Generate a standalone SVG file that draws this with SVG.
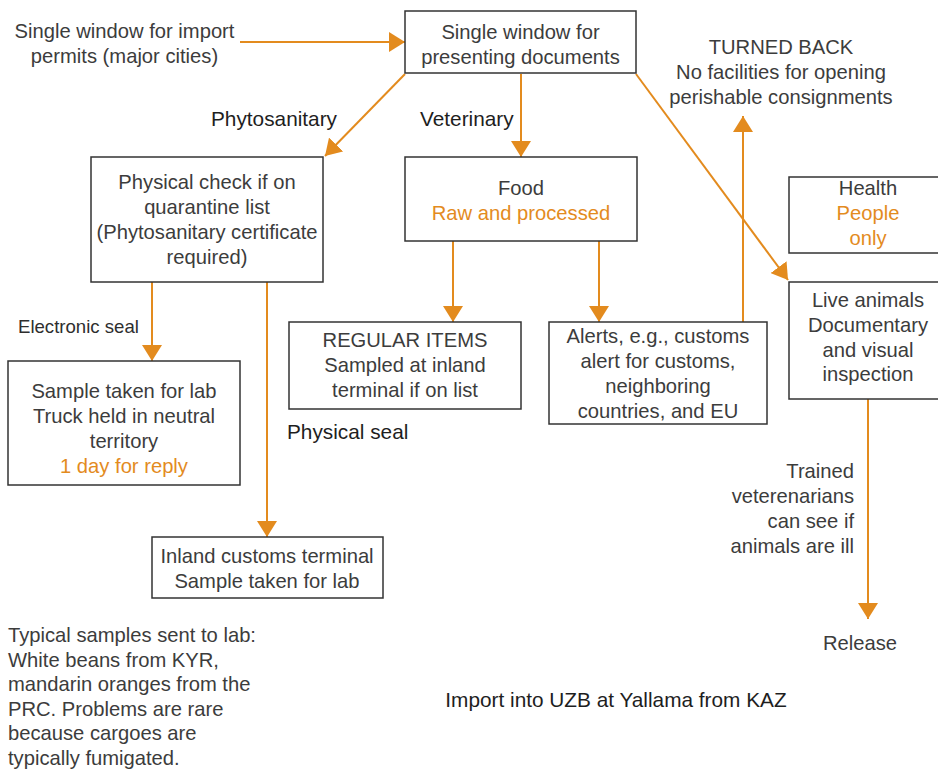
<svg xmlns="http://www.w3.org/2000/svg" width="938" height="770" viewBox="0 0 938 770">
<style>
text{font-family:"Liberation Sans",Arial,sans-serif;font-size:20.2px;fill:#3c3c3c}
.c{text-anchor:middle}
.r{text-anchor:end}
.o{fill:#E38B1E}
.d{fill:#1e1e1e;font-size:20.8px}
.s{font-size:18.6px;fill:#2e2e2e}
.box{fill:#fff;stroke:#333;stroke-width:1.5}
.con{stroke:#E38B1E;stroke-width:2;fill:none;marker-end:url(#ah)}
</style>
<defs>
<marker id="ah" markerUnits="userSpaceOnUse" markerWidth="17" markerHeight="20" refX="16" refY="10" orient="auto" viewBox="0 0 17 20">
<path d="M0,0 L16,10 L0,20 z" fill="#E38B1E"/>
</marker>
</defs>
<rect width="938" height="770" fill="#fff"/>
<g id="connectors">
<line class="con" x1="240" y1="42" x2="405" y2="42"/>
<line class="con" x1="405" y1="74" x2="325" y2="156"/>
<line class="con" x1="521" y1="74" x2="521" y2="157"/>
<line class="con" x1="636" y1="74" x2="788" y2="280"/>
<line class="con" x1="453" y1="241" x2="453" y2="322"/>
<line class="con" x1="599" y1="241" x2="599" y2="322"/>
<line class="con" x1="743" y1="322" x2="743" y2="116"/>
<line class="con" x1="152" y1="282" x2="152" y2="361"/>
<line class="con" x1="267" y1="282" x2="267" y2="537"/>
<line class="con" x1="868" y1="399" x2="868" y2="619"/>
</g>
<g id="import-permits">
<text class="c" x="124.5" y="38">Single window for import</text>
<text class="c" x="124.5" y="63">permits (major cities)</text>
</g>
<g id="single-window">
<rect class="box" x="405" y="11" width="231" height="62"/>
<text class="c" x="520.5" y="39">Single window for</text>
<text class="c" x="520.5" y="64">presenting documents</text>
</g>
<g id="turned-back">
<text class="c" x="781" y="53.5">TURNED BACK</text>
<text class="c" x="781" y="78.5">No facilities for opening</text>
<text class="c" x="781" y="103.5">perishable consignments</text>
</g>
<g id="labels">
<text class="d" x="211" y="126">Phytosanitary</text>
<text class="d" x="420" y="126">Veterinary</text>
<text class="s" x="18" y="333">Electronic seal</text>
<text class="d" x="287" y="439">Physical seal</text>
</g>
<g id="phyto-check">
<rect class="box" x="91" y="157" width="232" height="125"/>
<text class="c" x="207" y="189">Physical check if on</text>
<text class="c" x="207" y="214">quarantine list</text>
<text class="c" x="207" y="239">(Phytosanitary certificate</text>
<text class="c" x="207" y="264">required)</text>
</g>
<g id="food">
<rect class="box" x="405" y="157" width="232" height="84"/>
<text class="c" x="521" y="195">Food</text>
<text class="c o" x="521" y="220">Raw and processed</text>
</g>
<g id="health">
<rect class="box" x="789" y="177" width="160" height="76"/>
<text class="c" x="868" y="195">Health</text>
<text class="c o" x="868" y="220">People</text>
<text class="c o" x="868" y="245">only</text>
</g>
<g id="live-animals">
<rect class="box" x="789" y="282" width="160" height="117"/>
<text class="c" x="868" y="307">Live animals</text>
<text class="c" x="868" y="332">Documentary</text>
<text class="c" x="868" y="357">and visual</text>
<text class="c" x="868" y="381">inspection</text>
</g>
<g id="regular-items">
<rect class="box" x="289" y="322" width="232" height="87"/>
<text class="c" x="405" y="347">REGULAR ITEMS</text>
<text class="c" x="405" y="372">Sampled at inland</text>
<text class="c" x="405" y="397">terminal if on list</text>
</g>
<g id="alerts">
<rect class="box" x="549" y="322" width="218" height="102"/>
<text class="c" x="658" y="343">Alerts, e.g., customs</text>
<text class="c" x="658" y="368">alert for customs,</text>
<text class="c" x="658" y="393">neighboring</text>
<text class="c" x="658" y="418">countries, and EU</text>
</g>
<g id="sample-lab">
<rect class="box" x="8" y="361" width="232" height="124"/>
<text class="c" x="124" y="398">Sample taken for lab</text>
<text class="c" x="124" y="423">Truck held in neutral</text>
<text class="c" x="124" y="448">territory</text>
<text class="c o" x="124" y="473">1 day for reply</text>
</g>
<g id="inland-terminal">
<rect class="box" x="152" y="537" width="231" height="61"/>
<text class="c" x="267" y="563">Inland customs terminal</text>
<text class="c" x="267" y="588">Sample taken for lab</text>
</g>
<g id="trained-vets">
<text class="r" x="854" y="478">Trained</text>
<text class="r" x="854" y="503">veterenarians</text>
<text class="r" x="854" y="528">can see if</text>
<text class="r" x="854" y="553">animals are ill</text>
</g>
<g id="release">
<text class="c" x="860" y="650">Release</text>
</g>
<g id="typical-samples">
<text x="8" y="642">Typical samples sent to lab:</text>
<text x="8" y="666.6">White beans from KYR,</text>
<text x="8" y="691.2">mandarin oranges from the</text>
<text x="8" y="715.8">PRC. Problems are rare</text>
<text x="8" y="740.4">because cargoes are</text>
<text x="8" y="765">typically fumigated.</text>
</g>
<g id="title">
<text class="c d" x="616" y="707">Import into UZB at Yallama from KAZ</text>
</g>
</svg>
